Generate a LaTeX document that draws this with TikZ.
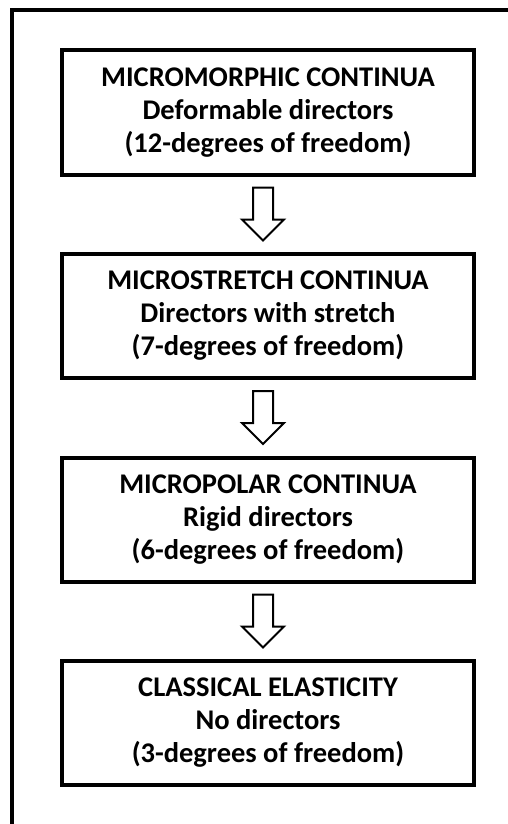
\documentclass[tikz,border=0pt]{standalone}
\usepackage{fontspec}
\setmainfont{Carlito}
\usetikzlibrary{calc}

\tikzset{
  model/.style={draw, line width=4pt, minimum width=412pt, minimum height=124pt, inner sep=0pt, align=center, font=\bfseries\fontsize{28.5}{33}\selectfont},
  hollowarrow/.style={draw, line width=2pt, fill=white, line join=miter}
}

\begin{document}
\begin{tikzpicture}[x=1pt,y=-1pt]

\useasboundingbox (0,0) rectangle (508,824);
\clip (0,0) rectangle (508,824);

%% outer frame, cut off at right and bottom
\draw [line width=4pt] (12,10) rectangle (540,860); % frame

%% the four models
\node [model] (micromorphic) at (268,112.5) {MICROMORPHIC CONTINUA\\Deformable directors\\(12-degrees of freedom)};
\node [model] (microstretch) at (268,316) {MICROSTRETCH CONTINUA\\Directors with stretch\\(7-degrees of freedom)};
\node [model] (micropolar) at (268,519.5) {MICROPOLAR CONTINUA\\Rigid directors\\(6-degrees of freedom)};
\node [model] (classical) at (268,723) {CLASSICAL ELASTICITY\\No directors\\(3-degrees of freedom)};

%% hollow arrows from each model down to the next one
\draw [hollowarrow] ($(micromorphic.south)+(-15,11)$) -- ++(0,32) -- ++(-11,0) -- ++(21,21) -- ++(21,-21) -- ++(-11,0) -- ++(0,-32) -- cycle; % first arrow
\draw [hollowarrow] ($(microstretch.south)+(-15,11)$) -- ++(0,32) -- ++(-11,0) -- ++(21,21) -- ++(21,-21) -- ++(-11,0) -- ++(0,-32) -- cycle; % second arrow
\draw [hollowarrow] ($(micropolar.south)+(-15,11)$) -- ++(0,32) -- ++(-11,0) -- ++(21,21) -- ++(21,-21) -- ++(-11,0) -- ++(0,-32) -- cycle; % third arrow

\end{tikzpicture}
\end{document}
